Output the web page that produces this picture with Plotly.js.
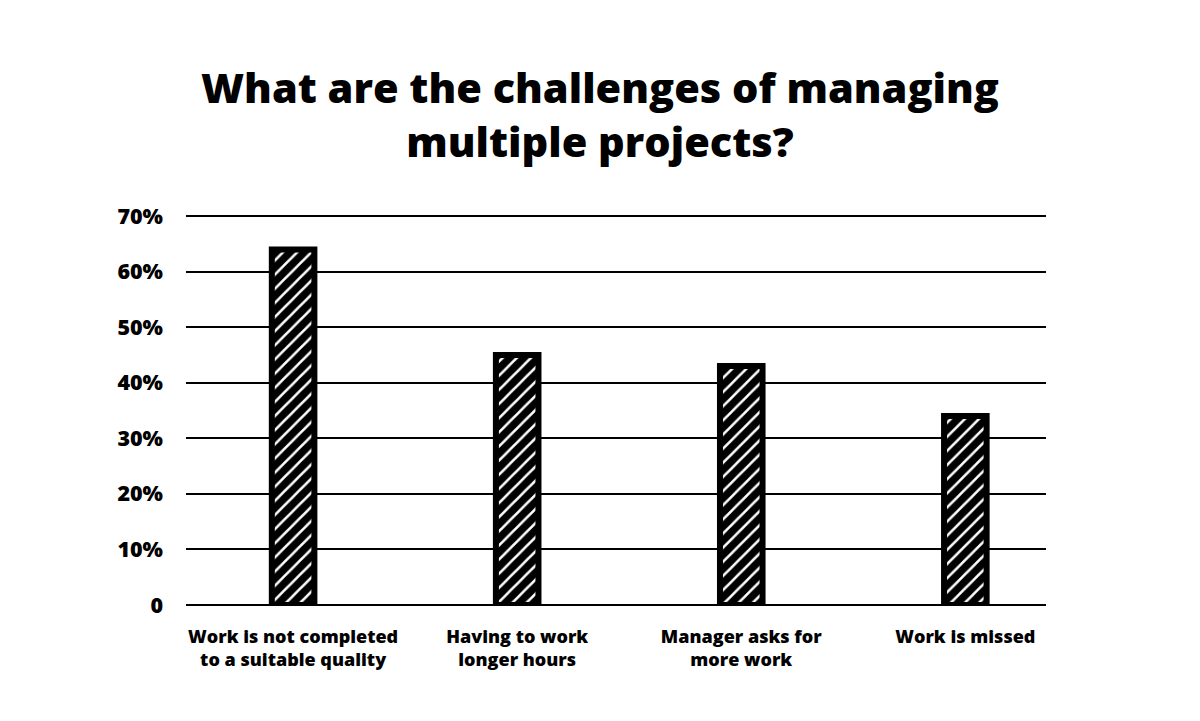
<!DOCTYPE html>
<html>
<head>
<meta charset="utf-8">
<script src="https://cdn.plot.ly/plotly-3.0.1.min.js"></script>
<style>html,body{margin:0;padding:0;background:#fff;}#chart{width:1200px;height:721px;}</style>
</head>
<body>
<div id="chart"></div>
<script>
const categories = [
  "Work is not completed<br>to a suitable quality",
  "Having to work<br>longer hours",
  "Manager asks for<br>more work",
  "Work is missed"
];
const values = [64, 45, 43, 34];
const tickVals = [0, 10, 20, 30, 40, 50, 60, 70];
const tickText = ["0", "10%", "20%", "30%", "40%", "50%", "60%", "70%"];
const titleText = "What are the challenges of managing<br>multiple projects?";

const FONT = "'Open Sans', 'Noto Sans', sans-serif";

const trace = {
  type: "bar",
  x: [0, 1, 2, 3],
  y: values,
  width: 0.19,
  marker: {
    color: "#000",
    line: {color: "#000", width: 6},
    pattern: {shape: "/", fgcolor: "#000", bgcolor: "#fff", size: 10, solidity: 0.75, fillmode: "replace"}
  },
  hoverinfo: "none"
};

const layout = {
  width: 1200,
  height: 721,
  paper_bgcolor: "#fff",
  plot_bgcolor: "#fff",
  margin: {l: 186, r: 154, t: 215, b: 116},
  showlegend: false,
  title: {
    text: titleText,
    x: 0.5,
    xanchor: "center",
    y: 0.857,
    yanchor: "top",
    font: {family: FONT, size: 41.5, color: "#000", weight: 800}
  },
  xaxis: {
    range: [-0.478, 3.36],
    tickvals: [0, 1, 2, 3],
    ticktext: categories,
    showgrid: false,
    zeroline: false,
    showline: false,
    ticks: "",
    ticklabelstandoff: 19,
    tickfont: {family: FONT, size: 18, color: "#000", weight: 800},
    fixedrange: true
  },
  yaxis: {
    range: [0, 70.2],
    tickvals: tickVals,
    ticktext: tickText,
    showgrid: true,
    gridcolor: "#000",
    gridwidth: 2,
    zeroline: true,
    zerolinecolor: "#000",
    zerolinewidth: 2,
    showline: false,
    ticks: "",
    ticklabelstandoff: 22,
    tickfont: {family: FONT, size: 21.5, color: "#000", weight: 800},
    layer: "below traces",
    fixedrange: true
  }
};

Plotly.newPlot("chart", [trace], layout, {displayModeBar: false, staticPlot: true});
</script>
</body>
</html>
